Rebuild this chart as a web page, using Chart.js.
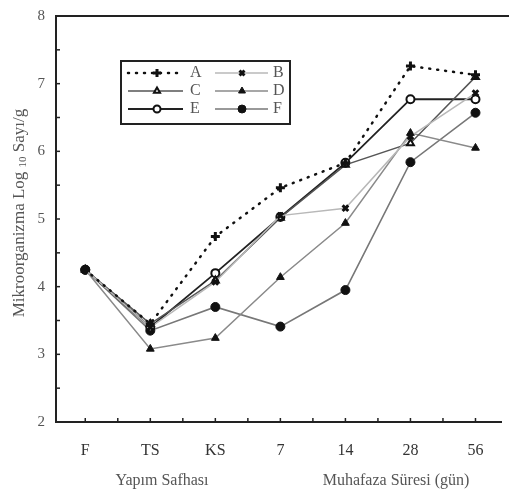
<!DOCTYPE html>
<html>
<head>
<meta charset="utf-8">
<script src="https://cdn.jsdelivr.net/npm/chart.js@4.4.1/dist/chart.umd.min.js"></script>
<style>
  html, body { margin: 0; padding: 0; background: #fff; }
  #wrap { width: 509px; height: 498px; position: relative; }
</style>
</head>
<body>
<div id="wrap"><canvas id="chart" width="509" height="498"></canvas></div>
<script>
// categories on the x axis (production stage + storage days)
const categories = ['F', 'TS', 'KS', '7', '14', '28', '56'];
const yTicks = [2, 3, 4, 5, 6, 7, 8];

// log10 counts per gram
const seriesA = [4.25, 3.45, 4.74, 5.46, 5.83, 7.26, 7.13];
const seriesB = [4.25, 3.40, 4.07, 5.05, 5.16, 6.22, 6.86];
const seriesC = [4.25, 3.45, 4.09, 5.02, 5.80, 6.12, 7.10];
const seriesD = [4.25, 3.08, 3.24, 4.14, 4.94, 6.27, 6.05];
const seriesE = [4.25, 3.40, 4.20, 5.03, 5.83, 6.77, 6.77];
const seriesF = [4.25, 3.35, 3.70, 3.41, 3.95, 5.84, 6.57];

const serif = '"Liberation Serif", "DejaVu Serif", serif';

function pts(values) {
    return values.map((v, i) => ({ x: i, y: v }));
}

const datasets = [
    { label: 'A', data: pts(seriesA), borderColor: '#111', borderWidth: 2.5, borderDash: [1, 7],
      borderCapStyle: 'round', pointStyle: 'cross', pointRadius: 4.5, pointBorderWidth: 3,
      pointBorderColor: '#111', pointBackgroundColor: '#111' },
    { label: 'B', data: pts(seriesB), borderColor: '#b8b8b8', borderWidth: 1.5,
      pointStyle: 'crossRot', pointRadius: 4, pointBorderWidth: 3,
      pointBorderColor: '#111', pointBackgroundColor: '#111' },
    { label: 'C', data: pts(seriesC), borderColor: '#555', borderWidth: 1.5,
      pointStyle: 'triangle', pointRadius: 4, pointBorderWidth: 2,
      pointBorderColor: '#111', pointBackgroundColor: '#fff' },
    { label: 'D', data: pts(seriesD), borderColor: '#8a8a8a', borderWidth: 1.5,
      pointStyle: 'triangle', pointRadius: 4.5, pointBorderWidth: 1,
      pointBorderColor: '#111', pointBackgroundColor: '#111' },
    { label: 'E', data: pts(seriesE), borderColor: '#222', borderWidth: 1.8,
      pointStyle: 'circle', pointRadius: 4, pointBorderWidth: 2,
      pointBorderColor: '#111', pointBackgroundColor: '#fff' },
    { label: 'F', data: pts(seriesF), borderColor: '#777', borderWidth: 1.6,
      pointStyle: 'circle', pointRadius: 4.5, pointBorderWidth: 1,
      pointBorderColor: '#111', pointBackgroundColor: '#111' }
];

// inward ticks, top frame line, axis titles and the boxed legend
const decorations = {
    id: 'decorations',
    afterDraw(chart) {
        const ctx = chart.ctx;
        const area = chart.chartArea;
        const xs = chart.scales.x;
        const ys = chart.scales.y;
        ctx.save();

        // frame top
        ctx.strokeStyle = '#222';
        ctx.lineWidth = 2;
        ctx.beginPath();
        ctx.moveTo(area.left, area.top);
        ctx.lineTo(chart.width, area.top);
        ctx.stroke();

        // inward ticks
        ctx.lineWidth = 1.5;
        ctx.strokeStyle = '#222';
        for (let v = 2.5; v < 8; v += 0.5) {
            const y = ys.getPixelForValue(v);
            ctx.beginPath();
            ctx.moveTo(area.left, y);
            ctx.lineTo(area.left + 4, y);
            ctx.stroke();
        }
        for (let v = 0; v <= 6; v += 0.5) {
            const x = xs.getPixelForValue(v);
            ctx.beginPath();
            ctx.moveTo(x, area.bottom);
            ctx.lineTo(x, area.bottom - 4);
            ctx.stroke();
        }

        // x titles
        ctx.fillStyle = '#555';
        ctx.font = '16px ' + serif;
        ctx.textAlign = 'center';
        ctx.textBaseline = 'middle';
        ctx.fillText('Yapım Safhası', 162, 481);
        ctx.fillText('Muhafaza Süresi (gün)', 396, 481);

        // y title with subscript 10
        ctx.translate(20, 213);
        ctx.rotate(-Math.PI / 2);
        const p1 = 'Mikroorganizma Log ';
        const p3 = ' Sayı/g';
        ctx.font = '17px ' + serif;
        const w1 = ctx.measureText(p1).width;
        const w3 = ctx.measureText(p3).width;
        ctx.font = '11px ' + serif;
        const w2 = ctx.measureText('10').width;
        let x0 = -(w1 + w2 + w3) / 2;
        ctx.textAlign = 'left';
        ctx.font = '17px ' + serif;
        ctx.fillText(p1, x0, 0);
        ctx.font = '11px ' + serif;
        ctx.fillText('10', x0 + w1, 3);
        ctx.font = '17px ' + serif;
        ctx.fillText(p3, x0 + w1 + w2, 0);
        ctx.setTransform(1, 0, 0, 1, 0, 0);

        // legend box
        ctx.strokeStyle = '#222';
        ctx.lineWidth = 2;
        ctx.strokeRect(121, 61, 169, 63);
        const cols = [{ l: 128, r: 183, m: 157, t: 190 }, { l: 215, r: 268, m: 242, t: 273 }];
        const rows = [73, 91, 109];
        chart.data.datasets.forEach((ds, i) => {
            const c = cols[i % 2];
            const y = rows[Math.floor(i / 2)];
            ctx.strokeStyle = ds.borderColor;
            ctx.lineWidth = ds.borderWidth;
            ctx.lineCap = ds.borderCapStyle || 'butt';
            ctx.setLineDash(ds.borderDash || []);
            ctx.beginPath();
            ctx.moveTo(c.l, y);
            ctx.lineTo(c.r, y);
            ctx.stroke();
            ctx.setLineDash([]);
            ctx.lineCap = 'butt';
            ctx.fillStyle = ds.pointBackgroundColor;
            ctx.strokeStyle = ds.pointBorderColor;
            ctx.lineWidth = ds.pointBorderWidth;
            ctx.beginPath();
            Chart.helpers.drawPoint(ctx, {
                pointStyle: ds.pointStyle, radius: ds.pointRadius - 0.5, rotation: 0,
                borderWidth: ds.pointBorderWidth
            }, c.m, y);
            ctx.fillStyle = '#555';
            ctx.font = '16px ' + serif;
            ctx.textAlign = 'left';
            ctx.textBaseline = 'middle';
            ctx.fillText(ds.label, c.t, y);
        });
        ctx.restore();
    }
};

new Chart(document.getElementById('chart'), {
    type: 'line',
    data: { datasets },
    options: {
        responsive: false,
        animation: false,
        events: [],
        layout: { padding: { top: 16, right: 4, left: 0, bottom: 0 } },
        plugins: {
            legend: { display: false },
            tooltip: { enabled: false },
            title: { display: false }
        },
        scales: {
            x: {
                type: 'linear',
                min: -0.45,
                max: 6.4,
                afterFit: s => { s.height = 76; },
                afterBuildTicks: s => { s.ticks = categories.map((c, i) => ({ value: i })); },
                grid: { display: false, drawTicks: false },
                border: { display: true, color: '#222', width: 2 },
                ticks: {
                    padding: 19,
                    color: '#333',
                    font: { family: serif, size: 16 },
                    callback: v => categories[v] || ''
                }
            },
            y: {
                min: 2,
                max: 8,
                afterFit: s => { s.width = 56; s.paddingTop = 0; },
                afterBuildTicks: s => { s.ticks = yTicks.map(v => ({ value: v })); },
                grid: { display: false, drawTicks: false },
                border: { display: true, color: '#222', width: 2 },
                ticks: {
                    padding: 11,
                    color: '#555',
                    font: { family: serif, size: 15, lineHeight: 1 }
                }
            }
        }
    },
    plugins: [decorations]
});
</script>
</body>
</html>
